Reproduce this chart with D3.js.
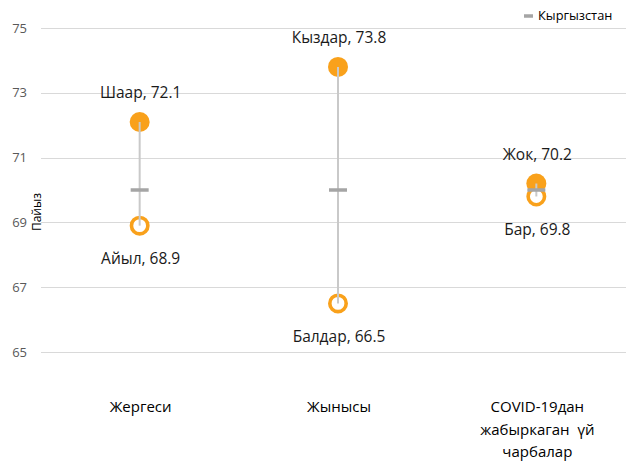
<!DOCTYPE html>
<html>
<head>
<meta charset="utf-8">
<script src="https://cdn.jsdelivr.net/npm/d3@7"></script>
<style>
  body { margin: 0; background: #fff; }
  svg { display: block; font-family: "Open Sans", "Noto Sans", sans-serif; }
</style>
</head>
<body>
<svg id="chart" width="626" height="461"></svg>
<script>
// Categories (multi-line labels split by "\n")
const categories = ["Жергеси", "Жынысы", "COVID-19дан\nжабыркаган  үй\nчарбалар"];
// High value group (filled marker)
const highNames = ["Шаар", "Кыздар", "Жок"];
const highValues = [72.1, 73.8, 70.2];
// Low value group (hollow marker)
const lowNames = ["Айыл", "Балдар", "Бар"];
const lowValues = [68.9, 66.5, 69.8];
// National average
const nationalName = "Кыргызстан";
const nationalValues = [70.0, 70.0, 70.0];
const yTicks = [65, 67, 69, 71, 73, 75];

const svg = d3.select("#chart");
const W = 626, H = 461;

const x = d3.scaleBand().domain(d3.range(categories.length)).range([41, 636]).padding(0);
const y = d3.scaleLinear().domain([65, 75]).range([352, 28]);
const cx = i => x(i) + x.bandwidth() / 2 - 0.5;

const orange = "#f9a11b";

// Gridlines
svg.append("g").selectAll("line").data(yTicks).join("line")
  .attr("x1", 41).attr("x2", W)
  .attr("y1", d => Math.round(y(d)) + 0.5).attr("y2", d => Math.round(y(d)) + 0.5)
  .attr("stroke", "#d9d9d9").attr("stroke-width", 1);

// Y axis labels
const yAxis = d3.axisLeft(y).tickValues(yTicks).tickSize(0).tickPadding(0);
const ya = svg.append("g").attr("transform", "translate(27,0)").call(yAxis);
ya.select(".domain").remove();
ya.selectAll("text").attr("fill", "#595959").style("font-size", "13px")
  .style("font-family", "'Open Sans', sans-serif");

// Y axis title
svg.append("text")
  .attr("transform", "translate(41,212) rotate(-90)")
  .attr("text-anchor", "middle")
  .attr("fill", "#000")
  .style("font-size", "12px")
  .text("Пайыз");

const idx = d3.range(categories.length);

// Markers
svg.append("g").selectAll("circle").data(idx).join("circle")
  .attr("cx", cx).attr("cy", i => y(highValues[i])).attr("r", 10)
  .attr("fill", orange);
svg.append("g").selectAll("circle").data(idx).join("circle")
  .attr("cx", cx).attr("cy", i => y(lowValues[i])).attr("r", 8.2)
  .attr("fill", "#fff").attr("stroke", orange).attr("stroke-width", 3.6);

// Range connectors
svg.append("g").selectAll("line").data(idx).join("line")
  .attr("x1", cx).attr("x2", cx)
  .attr("y1", i => y(highValues[i])).attr("y2", i => y(lowValues[i]))
  .attr("stroke", "#c9c9c9").attr("stroke-width", 2);

// National dash
svg.append("g").selectAll("line").data(idx).join("line")
  .attr("x1", i => cx(i) - 9).attr("x2", i => cx(i) + 9)
  .attr("y1", i => y(nationalValues[i])).attr("y2", i => y(nationalValues[i]))
  .attr("stroke", "#a5a5a5").attr("stroke-width", 3.5);

// Value labels
const lab = svg.append("g").style("font-size", "15.5px").attr("fill", "#1a1a1a")
  .attr("text-anchor", "middle");
lab.selectAll("text.hi").data(idx).join("text").attr("class", "hi")
  .attr("x", i => cx(i) + 1).attr("y", i => y(highValues[i]) - 29)
  .attr("dy", "0.35em")
  .text(i => `${highNames[i]}, ${highValues[i].toFixed(1)}`);
lab.selectAll("text.lo").data(idx).join("text").attr("class", "lo")
  .attr("x", i => cx(i) + 1).attr("y", i => y(lowValues[i]) + 33)
  .attr("dy", "0.35em")
  .text(i => `${lowNames[i]}, ${lowValues[i].toFixed(1)}`);

// Category labels
const cat = svg.append("g").style("font-size", "15px").attr("fill", "#000")
  .attr("text-anchor", "middle");
idx.forEach(i => {
  const t = cat.append("text").attr("x", cx(i) + 1).attr("y", 407);
  categories[i].split("\n").forEach((line, k) => {
    t.append("tspan").attr("x", cx(i) + 1).attr("dy", k === 0 ? "0.35em" : "22.5px")
      .style("white-space", "pre").text(line);
  });
});

// Legend
const lg = svg.append("g");
lg.append("line").attr("x1", 524).attr("x2", 533).attr("y1", 16).attr("y2", 16)
  .attr("stroke", "#a5a5a5").attr("stroke-width", 3.5);
lg.append("text").attr("x", 538).attr("y", 16).attr("dy", "0.35em")
  .style("font-size", "12.8px").attr("fill", "#000").text(nationalName);
</script>
</body>
</html>
